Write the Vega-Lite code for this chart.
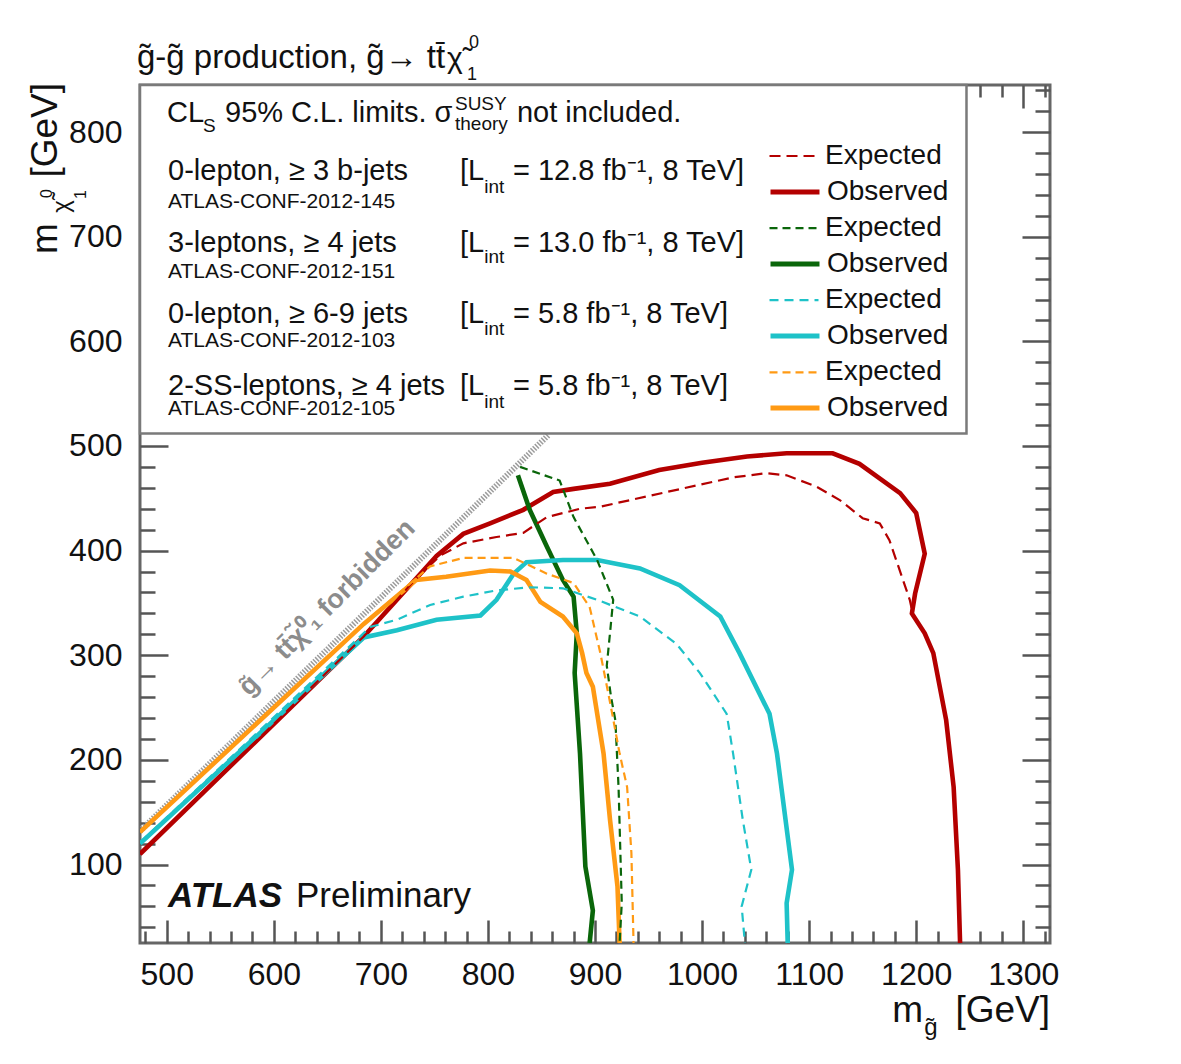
{
"$schema":"https://vega.github.io/schema/vega-lite/v6.json",
"width":910,"height":858,
"autosize":{"type":"none"},
"padding":{"left":140,"top":85,"right":131,"bottom":121},
"background":"white",
"config":{"view":{"stroke":"#666","strokeWidth":3},"font":"Liberation Sans","axis":{"grid":false,"labelFont":"Liberation Sans"}},
"datasets":{
"ax":[{"x":900,"y":400}],
"box":[{"x":475,"x2":1247,"y":512,"y2":845}],
"diag":[{"x":475,"y":132},{"x":857,"y":511}],
"obs":[
{"s":"A Observed","i":0,"x":475,"y":110},{"s":"A Observed","i":1,"x":684,"y":318},{"s":"A Observed","i":2,"x":730,"y":370},{"s":"A Observed","i":3,"x":752,"y":395},{"s":"A Observed","i":4,"x":777,"y":416},{"s":"A Observed","i":5,"x":802,"y":426},{"s":"A Observed","i":6,"x":833,"y":439},{"s":"A Observed","i":7,"x":861,"y":456},{"s":"A Observed","i":8,"x":880,"y":459},{"s":"A Observed","i":9,"x":914,"y":464},{"s":"A Observed","i":10,"x":960,"y":477},{"s":"A Observed","i":11,"x":1000,"y":484},{"s":"A Observed","i":12,"x":1042,"y":490},{"s":"A Observed","i":13,"x":1079,"y":493},{"s":"A Observed","i":14,"x":1122,"y":493},{"s":"A Observed","i":15,"x":1147,"y":483},{"s":"A Observed","i":16,"x":1185,"y":455},{"s":"A Observed","i":17,"x":1200,"y":436},{"s":"A Observed","i":18,"x":1208,"y":397},{"s":"A Observed","i":19,"x":1199,"y":359},{"s":"A Observed","i":20,"x":1196,"y":340},{"s":"A Observed","i":21,"x":1208,"y":321},{"s":"A Observed","i":22,"x":1216,"y":302},{"s":"A Observed","i":23,"x":1228,"y":238},{"s":"A Observed","i":24,"x":1235,"y":174},{"s":"A Observed","i":25,"x":1239,"y":95},{"s":"A Observed","i":26,"x":1241,"y":25},
{"s":"B Observed","i":0,"x":828,"y":472},{"s":"B Observed","i":1,"x":839,"y":439},{"s":"B Observed","i":2,"x":855,"y":404},{"s":"B Observed","i":3,"x":870,"y":372},{"s":"B Observed","i":4,"x":880,"y":356},{"s":"B Observed","i":5,"x":883,"y":321},{"s":"B Observed","i":6,"x":881,"y":283},{"s":"B Observed","i":7,"x":886,"y":206},{"s":"B Observed","i":8,"x":891,"y":98},{"s":"B Observed","i":9,"x":898,"y":56},{"s":"B Observed","i":10,"x":895,"y":25},
{"s":"C Observed","i":0,"x":475,"y":120},{"s":"C Observed","i":1,"x":684,"y":317},{"s":"C Observed","i":2,"x":715,"y":324},{"s":"C Observed","i":3,"x":752,"y":334},{"s":"C Observed","i":4,"x":793,"y":338},{"s":"C Observed","i":5,"x":808,"y":353},{"s":"C Observed","i":6,"x":824,"y":378},{"s":"C Observed","i":7,"x":836,"y":389},{"s":"C Observed","i":8,"x":870,"y":391},{"s":"C Observed","i":9,"x":902,"y":391},{"s":"C Observed","i":10,"x":942,"y":383},{"s":"C Observed","i":11,"x":979,"y":367},{"s":"C Observed","i":12,"x":1017,"y":337},{"s":"C Observed","i":13,"x":1035,"y":302},{"s":"C Observed","i":14,"x":1063,"y":244},{"s":"C Observed","i":15,"x":1070,"y":206},{"s":"C Observed","i":16,"x":1084,"y":95},{"s":"C Observed","i":17,"x":1079,"y":63},{"s":"C Observed","i":18,"x":1080,"y":25},
{"s":"D Observed","i":0,"x":475,"y":131},{"s":"D Observed","i":1,"x":684,"y":330},{"s":"D Observed","i":2,"x":733,"y":372},{"s":"D Observed","i":3,"x":761,"y":375},{"s":"D Observed","i":4,"x":802,"y":381},{"s":"D Observed","i":5,"x":821,"y":380},{"s":"D Observed","i":6,"x":836,"y":372},{"s":"D Observed","i":7,"x":849,"y":351},{"s":"D Observed","i":8,"x":870,"y":337},{"s":"D Observed","i":9,"x":883,"y":321},{"s":"D Observed","i":10,"x":888,"y":302},{"s":"D Observed","i":11,"x":892,"y":283},{"s":"D Observed","i":12,"x":898,"y":270},{"s":"D Observed","i":13,"x":908,"y":206},{"s":"D Observed","i":14,"x":914,"y":143},{"s":"D Observed","i":15,"x":921,"y":79},{"s":"D Observed","i":16,"x":923,"y":25}
],
"exp":[
{"s":"A Expected","i":0,"x":475,"y":110},{"s":"A Expected","i":1,"x":684,"y":318},{"s":"A Expected","i":2,"x":730,"y":370},{"s":"A Expected","i":3,"x":755,"y":395},{"s":"A Expected","i":4,"x":777,"y":407},{"s":"A Expected","i":5,"x":808,"y":413},{"s":"A Expected","i":6,"x":833,"y":417},{"s":"A Expected","i":7,"x":855,"y":432},{"s":"A Expected","i":8,"x":886,"y":440},{"s":"A Expected","i":9,"x":905,"y":442},{"s":"A Expected","i":10,"x":967,"y":456},{"s":"A Expected","i":11,"x":1029,"y":470},{"s":"A Expected","i":12,"x":1060,"y":474},{"s":"A Expected","i":13,"x":1079,"y":472},{"s":"A Expected","i":14,"x":1107,"y":461},{"s":"A Expected","i":15,"x":1129,"y":448},{"s":"A Expected","i":16,"x":1150,"y":431},{"s":"A Expected","i":17,"x":1166,"y":426},{"s":"A Expected","i":18,"x":1175,"y":410},{"s":"A Expected","i":19,"x":1194,"y":353},{"s":"A Expected","i":20,"x":1197,"y":339},{"s":"A Expected","i":21,"x":1208,"y":321},{"s":"A Expected","i":22,"x":1216,"y":302},{"s":"A Expected","i":23,"x":1228,"y":238},{"s":"A Expected","i":24,"x":1235,"y":174},{"s":"A Expected","i":25,"x":1239,"y":95},{"s":"A Expected","i":26,"x":1241,"y":25},
{"s":"B Expected","i":0,"x":830,"y":480},{"s":"B Expected","i":1,"x":867,"y":467},{"s":"B Expected","i":2,"x":880,"y":432},{"s":"B Expected","i":3,"x":902,"y":391},{"s":"B Expected","i":4,"x":917,"y":353},{"s":"B Expected","i":5,"x":914,"y":321},{"s":"B Expected","i":6,"x":911,"y":290},{"s":"B Expected","i":7,"x":915,"y":260},{"s":"B Expected","i":8,"x":919,"y":238},{"s":"B Expected","i":9,"x":922,"y":174},{"s":"B Expected","i":10,"x":925,"y":63},{"s":"B Expected","i":11,"x":923,"y":25},
{"s":"C Expected","i":0,"x":475,"y":121},{"s":"C Expected","i":1,"x":690,"y":327},{"s":"C Expected","i":2,"x":715,"y":334},{"s":"C Expected","i":3,"x":746,"y":348},{"s":"C Expected","i":4,"x":777,"y":356},{"s":"C Expected","i":5,"x":808,"y":362},{"s":"C Expected","i":6,"x":839,"y":365},{"s":"C Expected","i":7,"x":870,"y":364},{"s":"C Expected","i":8,"x":902,"y":353},{"s":"C Expected","i":9,"x":942,"y":337},{"s":"C Expected","i":10,"x":976,"y":311},{"s":"C Expected","i":11,"x":998,"y":283},{"s":"C Expected","i":12,"x":1023,"y":244},{"s":"C Expected","i":13,"x":1029,"y":206},{"s":"C Expected","i":14,"x":1038,"y":143},{"s":"C Expected","i":15,"x":1046,"y":95},{"s":"C Expected","i":16,"x":1037,"y":60},{"s":"C Expected","i":17,"x":1040,"y":25},
{"s":"D Expected","i":0,"x":475,"y":131},{"s":"D Expected","i":1,"x":684,"y":330},{"s":"D Expected","i":2,"x":746,"y":385},{"s":"D Expected","i":3,"x":777,"y":393},{"s":"D Expected","i":4,"x":824,"y":393},{"s":"D Expected","i":5,"x":855,"y":378},{"s":"D Expected","i":6,"x":880,"y":369},{"s":"D Expected","i":7,"x":895,"y":346},{"s":"D Expected","i":8,"x":905,"y":302},{"s":"D Expected","i":9,"x":915,"y":250},{"s":"D Expected","i":10,"x":923,"y":206},{"s":"D Expected","i":11,"x":930,"y":174},{"s":"D Expected","i":12,"x":934,"y":111},{"s":"D Expected","i":13,"x":936,"y":25}
],
"leg27":[
{"t":"CL","x":500.2,"y":809.6},{"t":"95% C.L. limits. σ","x":554.4,"y":809.6},{"t":"not included.","x":827.1,"y":809.6},
{"t":"0-lepton, ≥ 3 b-jets","x":501.2,"y":754.2},{"t":"3-leptons, ≥ 4 jets","x":501.2,"y":685.7},{"t":"0-lepton, ≥ 6-9 jets","x":501.2,"y":617.5},{"t":"2-SS-leptons, ≥ 4 jets","x":501.2,"y":548.7},
{"t":"[L","x":773.9,"y":754.2},{"t":"[L","x":773.9,"y":685.7},{"t":"[L","x":773.9,"y":617.5},{"t":"[L","x":773.9,"y":548.7},
{"t":"= 12.8 fb⁻¹, 8 TeV]","x":823.4,"y":754.2},{"t":"= 13.0 fb⁻¹, 8 TeV]","x":823.4,"y":685.7},{"t":"= 5.8 fb⁻¹, 8 TeV]","x":823.4,"y":617.5},{"t":"= 5.8 fb⁻¹, 8 TeV]","x":823.4,"y":548.7}
],
"conf":[{"t":"ATLAS-CONF-2012-145","x":501.2,"y":727.7},{"t":"ATLAS-CONF-2012-151","x":501.2,"y":660.6},{"t":"ATLAS-CONF-2012-103","x":501.2,"y":594.9},{"t":"ATLAS-CONF-2012-105","x":501.2,"y":529.6}],
"sub18":[{"t":"S","x":533.8,"y":800.1},{"t":"SUSY","x":769.2,"y":821.1},{"t":"theory","x":769.2,"y":802.0},{"t":"int","x":796.5,"y":741.8},{"t":"int","x":796.5,"y":674.9},{"t":"int","x":796.5,"y":606.1},{"t":"int","x":796.5,"y":536.3}],
"atlas":[{"t":"ATLAS","x":501.2,"y":59.4}],
"prelim":[{"t":"Preliminary","x":620.7,"y":59.4}],
"title":[{"t":"g̃-g̃ production, g̃→ tt̄","x":472.2,"y":861.3}],
"titlechi":[{"t":"χ̃","x":761.8,"y":861.3}],
"titless":[{"t":"0","x":782.4,"y":880.5},{"t":"1","x":780.5,"y":849.7}],
"forb":[{"t":"g̃→ tt̄χ̃⁰₁ forbidden","x":655,"y":340}],
"ytitle":[{"t":"[GeV]","x":397.5,"y":847},{"t":"m","x":397.5,"y":713}],
"ychi":[{"t":"χ̃","x":408.7,"y":735}],
"yss":[{"t":"0","x":392.8,"y":745.5},{"t":"1","x":424.6,"y":744.6}],
"xtitle":[{"t":"m","x":1206.5,"y":-50.5},{"t":"[GeV]","x":1325,"y":-50.5}],
"xsub":[{"t":"g̃","x":1207.5,"y":-63}]
},
"encoding":{
"x":{"field":"x","type":"quantitative","scale":{"domain":[475,1325],"nice":false,"zero":false},"axis":null},
"y":{"field":"y","type":"quantitative","scale":{"domain":[25,845],"nice":false,"zero":false},"axis":null}
},
"layer":[
{"data":{"name":"diag"},"mark":{"type":"line","color":"#9c9c9c","strokeWidth":6,"strokeDash":[1.5,1.5],"clip":true},"encoding":{}},
{"data":{"name":"box"},"mark":{"type":"rect","fill":"white","stroke":"#7a7a7a","strokeWidth":2.5},"encoding":{"x2":{"field":"x2"},"y2":{"field":"y2"}}},
{"data":{"name":"obs"},"mark":{"type":"line","clip":true,"strokeWidth":4.6},
 "encoding":{
  "order":{"field":"i","type":"quantitative"},
  "stroke":{"field":"s","type":"nominal","scale":{"domain":["A Observed","B Observed","C Observed","D Observed"],"range":["#b40000","#0a660a","#1ec2c8","#ff9a14"]},
   "legend":{"title":null,"orient":"none","legendX":628,"legendY":80,"symbolType":"stroke","symbolSize":2400,"symbolStrokeWidth":5,"labelFontSize":28,"labelFont":"Liberation Sans","labelColor":"#111","labelOffset":5,"rowPadding":31,"padding":0,"labelExpr":"split(datum.label,' ')[1]"}}
 }},
{"data":{"name":"exp"},"mark":{"type":"line","clip":true,"strokeWidth":2.2},
 "encoding":{
  "order":{"field":"i","type":"quantitative"},
  "color":{"field":"s","type":"nominal","scale":{"domain":["A Expected","B Expected","C Expected","D Expected"],"range":["#b40000","#0a660a","#1ec2c8","#ff9a14"]},
   "legend":{"title":null,"orient":"none","legendX":628,"legendY":45,"symbolType":"stroke","symbolSize":2400,"symbolStrokeWidth":2.2,"labelFontSize":28,"labelFont":"Liberation Sans","labelColor":"#111","labelOffset":5,"rowPadding":32.1,"padding":0,"labelExpr":"split(datum.label,' ')[1]"}},
  "strokeDash":{"field":"s","type":"nominal","scale":{"domain":["A Expected","B Expected","C Expected","D Expected"],"range":[[11,6],[8,5],[9,6],[8,5]]},
   "legend":{"title":null,"orient":"none","legendX":628,"legendY":45,"symbolType":"stroke","symbolSize":2400,"symbolStrokeWidth":2.2,"labelFontSize":28,"labelFont":"Liberation Sans","labelColor":"#111","labelOffset":5,"rowPadding":32.1,"padding":0,"labelExpr":"split(datum.label,' ')[1]"}}
 }},
{"data":{"name":"leg27"},"mark":{"type":"text","align":"left","baseline":"alphabetic","fontSize":29,"font":"Liberation Sans","color":"#111"},"encoding":{"text":{"field":"t"}}},
{"data":{"name":"conf"},"mark":{"type":"text","align":"left","baseline":"alphabetic","fontSize":21,"font":"Liberation Sans","color":"#111"},"encoding":{"text":{"field":"t"}}},
{"data":{"name":"sub18"},"mark":{"type":"text","align":"left","baseline":"alphabetic","fontSize":19,"font":"Liberation Sans","color":"#111"},"encoding":{"text":{"field":"t"}}},
{"data":{"name":"atlas"},"mark":{"type":"text","align":"left","baseline":"alphabetic","fontSize":35,"fontWeight":"bold","fontStyle":"italic","font":"Liberation Sans","color":"#111"},"encoding":{"text":{"field":"t"}}},
{"data":{"name":"prelim"},"mark":{"type":"text","align":"left","baseline":"alphabetic","fontSize":35,"font":"Liberation Sans","color":"#111"},"encoding":{"text":{"field":"t"}}},
{"data":{"name":"title"},"mark":{"type":"text","align":"left","baseline":"alphabetic","fontSize":33,"font":"Liberation Sans","color":"#111"},"encoding":{"text":{"field":"t"}}},
{"data":{"name":"titlechi"},"mark":{"type":"text","align":"left","baseline":"alphabetic","fontSize":30,"font":"Liberation Sans","color":"#111"},"encoding":{"text":{"field":"t"}}},
{"data":{"name":"titless"},"mark":{"type":"text","align":"left","baseline":"alphabetic","fontSize":18,"font":"Liberation Sans","color":"#111"},"encoding":{"text":{"field":"t"}}},
{"data":{"name":"forb"},"mark":{"type":"text","align":"center","baseline":"alphabetic","fontSize":27,"fontWeight":"bold","angle":315,"font":"Liberation Sans","color":"#8c8c8c"},"encoding":{"text":{"field":"t"}}},
{"data":{"name":"ytitle"},"mark":{"type":"text","align":"right","baseline":"alphabetic","fontSize":37,"angle":270,"font":"Liberation Sans","color":"#111"},"encoding":{"text":{"field":"t"}}},
{"data":{"name":"ychi"},"mark":{"type":"text","align":"right","baseline":"alphabetic","fontSize":24,"angle":270,"font":"Liberation Sans","color":"#111"},"encoding":{"text":{"field":"t"}}},
{"data":{"name":"yss"},"mark":{"type":"text","align":"right","baseline":"alphabetic","fontSize":16,"angle":270,"font":"Liberation Sans","color":"#111"},"encoding":{"text":{"field":"t"}}},
{"data":{"name":"xtitle"},"mark":{"type":"text","align":"right","baseline":"alphabetic","fontSize":37,"font":"Liberation Sans","color":"#111"},"encoding":{"text":{"field":"t"}}},
{"data":{"name":"xsub"},"mark":{"type":"text","align":"left","baseline":"alphabetic","fontSize":24,"font":"Liberation Sans","color":"#111"},"encoding":{"text":{"field":"t"}}},
{"data":{"name":"ax"},"mark":{"type":"point","opacity":0},"encoding":{
 "x":{"field":"x","type":"quantitative","scale":{"domain":[475,1325],"nice":false,"zero":false},"axis":{"orient":"bottom","values":[500,600,700,800,900,1000,1100,1200,1300],"format":"d","ticks":false,"domain":false,"labelFontSize":32,"labelPadding":16,"labelColor":"#111","title":null}},
 "y":{"field":"y","type":"quantitative","scale":{"domain":[25,845],"nice":false,"zero":false},"axis":{"orient":"left","values":[100,200,300,400,500,600,700,800],"format":"d","ticks":false,"domain":false,"labelFontSize":32,"labelPadding":18,"labelColor":"#111","title":null}}}},
{"data":{"name":"ax"},"mark":{"type":"point","opacity":0},"encoding":{
 "x":{"field":"x","type":"quantitative","scale":{"domain":[475,1325],"nice":false,"zero":false},"axis":{"orient":"bottom","values":[500,600,700,800,900,1000,1100,1200,1300],"labels":false,"domain":false,"ticks":true,"tickSize":-23,"tickWidth":2.5,"tickColor":"#555","title":null}},
 "y":{"field":"y","type":"quantitative","scale":{"domain":[25,845],"nice":false,"zero":false},"axis":{"orient":"left","values":[100,200,300,400,500,600,700,800],"labels":false,"domain":false,"ticks":true,"tickSize":-28,"tickWidth":2.5,"tickColor":"#555","title":null}}}},
{"data":{"name":"ax"},"mark":{"type":"point","opacity":0},"encoding":{
 "x":{"field":"x","type":"quantitative","scale":{"domain":[475,1325],"nice":false,"zero":false},"axis":{"orient":"bottom","values":[480,520,540,560,580,620,640,660,680,720,740,760,780,820,840,860,880,920,940,960,980,1020,1040,1060,1080,1120,1140,1160,1180,1220,1240,1260,1280,1320],"labels":false,"domain":false,"ticks":true,"tickSize":-12,"tickWidth":2.5,"tickColor":"#555","title":null}},
 "y":{"field":"y","type":"quantitative","scale":{"domain":[25,845],"nice":false,"zero":false},"axis":{"orient":"left","values":[40,60,80,120,140,160,180,220,240,260,280,320,340,360,380,420,440,460,480,520,540,560,580,620,640,660,680,720,740,760,780,820,840],"labels":false,"domain":false,"ticks":true,"tickSize":-15,"tickWidth":2.5,"tickColor":"#555","title":null}}}},
{"data":{"name":"ax"},"mark":{"type":"point","opacity":0},"encoding":{
 "x":{"field":"x","type":"quantitative","scale":{"domain":[475,1325],"nice":false,"zero":false},"axis":{"orient":"top","values":[500,600,700,800,900,1000,1100,1200,1300],"labels":false,"domain":false,"ticks":true,"tickSize":-23,"tickWidth":2.5,"tickColor":"#555","title":null}},
 "y":{"field":"y","type":"quantitative","scale":{"domain":[25,845],"nice":false,"zero":false},"axis":{"orient":"right","values":[100,200,300,400,500,600,700,800],"labels":false,"domain":false,"ticks":true,"tickSize":-28,"tickWidth":2.5,"tickColor":"#555","title":null}}}},
{"data":{"name":"ax"},"mark":{"type":"point","opacity":0},"encoding":{
 "x":{"field":"x","type":"quantitative","scale":{"domain":[475,1325],"nice":false,"zero":false},"axis":{"orient":"top","values":[480,520,540,560,580,620,640,660,680,720,740,760,780,820,840,860,880,920,940,960,980,1020,1040,1060,1080,1120,1140,1160,1180,1220,1240,1260,1280,1320],"labels":false,"domain":false,"ticks":true,"tickSize":-12,"tickWidth":2.5,"tickColor":"#555","title":null}},
 "y":{"field":"y","type":"quantitative","scale":{"domain":[25,845],"nice":false,"zero":false},"axis":{"orient":"right","values":[40,60,80,120,140,160,180,220,240,260,280,320,340,360,380,420,440,460,480,520,540,560,580,620,640,660,680,720,740,760,780,820,840],"labels":false,"domain":false,"ticks":true,"tickSize":-15,"tickWidth":2.5,"tickColor":"#555","title":null}}}}
],
"resolve":{"axis":{"x":"independent","y":"independent"}}
}
